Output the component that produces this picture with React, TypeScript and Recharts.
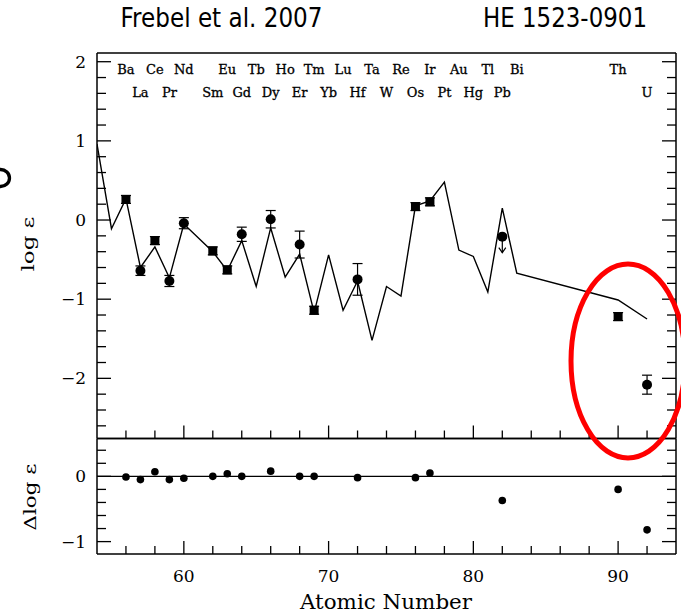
import React from "react";
import { ComposedChart, Line, Scatter, XAxis, YAxis, ErrorBar, ReferenceLine } from "recharts";

// page + plot frame (px)
const W = 681;
const H = 614;
const PLOT_L = 97;
const PLOT_R = 676;
const MAIN_T = 53;
const MAIN_B = 438.5;
const RES_B = 554;

const SERIF = '"DejaVu Serif", "Liberation Serif", serif';
const SANS = '"DejaVu Sans", "Liberation Sans", sans-serif';

// scaled solar r-process pattern (solid line)
const solarZ = [54, 55, 56, 57, 58, 59, 60, 62, 63, 64, 65, 66, 67, 68, 69, 70, 71, 72, 73, 74, 75, 76, 77, 78, 79, 80, 81, 82, 83, 90, 92];
const solarLogEps = [0.96, -0.11, 0.27, -0.6, -0.34, -0.73, -0.05, -0.4, -0.64, -0.26, -0.84, -0.1, -0.72, -0.43, -1.17, -0.44, -1.14, -0.77, -1.52, -0.84, -0.96, 0.18, 0.24, 0.48, -0.38, -0.46, -0.91, 0.15, -0.67, -1.01, -1.25];

// observed abundances, square symbols
const squareZ = [56, 58, 62, 63, 69, 76, 77, 90];
const squareLogEps = [0.26, -0.26, -0.39, -0.63, -1.14, 0.17, 0.23, -1.22];
const squareErr = [0.05, 0.05, 0.05, 0.05, 0.05, 0.05, 0.05, 0.05];

// observed abundances, round symbols
const circleZ = [57, 59, 60, 64, 66, 68, 72, 92];
const circleLogEps = [-0.64, -0.77, -0.04, -0.18, 0.01, -0.31, -0.75, -2.08];
const circleErr = [0.06, 0.07, 0.07, 0.09, 0.11, 0.17, 0.2, 0.12];

// upper limit (Pb)
const limitZ = [82];
const limitLogEps = [-0.21];

// residuals, lower panel
const residZ = [56, 57, 58, 59, 60, 62, 63, 64, 66, 68, 69, 72, 76, 77, 82, 90, 92];
const residDelta = [-0.01, -0.05, 0.07, -0.05, -0.03, 0.0, 0.04, 0.0, 0.08, 0.0, 0.0, -0.02, -0.02, 0.05, -0.37, -0.2, -0.82];

// element names along the top
const upperRowZ = [56, 58, 60, 63, 65, 67, 69, 71, 73, 75, 77, 79, 81, 83, 90];
const upperRowSym = ["Ba", "Ce", "Nd", "Eu", "Tb", "Ho", "Tm", "Lu", "Ta", "Re", "Ir", "Au", "Tl", "Bi", "Th"];
const lowerRowZ = [57, 59, 62, 64, 66, 68, 70, 72, 74, 76, 78, 80, 82, 92];
const lowerRowSym = ["La", "Pr", "Sm", "Gd", "Dy", "Er", "Yb", "Hf", "W", "Os", "Pt", "Hg", "Pb", "U"];

// axes
const xDomain = [54, 94];
const xTicks = [56, 58, 60, 62, 64, 66, 68, 70, 72, 74, 76, 78, 80, 82, 84, 86, 88, 90, 92];
const mainDomain = [-2.76, 2.11];
const mainTicks = [-2.6, -2.4, -2.2, -2, -1.8, -1.6, -1.4, -1.2, -1, -0.8, -0.6, -0.4, -0.2, 0, 0.2, 0.4, 0.6, 0.8, 1, 1.2, 1.4, 1.6, 1.8, 2];
const resDomain = [-1.19, 0.58];
const resTicks = [-1, -0.8, -0.6, -0.4, -0.2, 0, 0.2, 0.4];

const solar = solarZ.map((z, i) => ({ z, v: solarLogEps[i] }));
const squares = squareZ.map((z, i) => ({ z, v: squareLogEps[i], err: squareErr[i] }));
const circles = circleZ.map((z, i) => ({ z, v: circleLogEps[i], err: circleErr[i] }));
const limits = limitZ.map((z, i) => ({ z, v: limitLogEps[i] }));
const resid = residZ.map((z, i) => ({ z, v: residDelta[i] }));
const elements = [
  ...upperRowZ.map((z, i) => ({ z, sym: upperRowSym[i], row: 0 })),
  ...lowerRowZ.map((z, i) => ({ z, sym: lowerRowSym[i], row: 1 })),
];

const fmt = (v: number) => (v < 0 ? "\u2212" + Math.abs(v) : String(v));

const makeXTick = (edgeY: number, dir: number, labels: boolean) => (props: any) => {
  const { x, payload } = props;
  const v = payload.value;
  const major = v % 10 === 0;
  const len = major ? 13 : 8;
  return (
    <g>
      <line x1={x} x2={x} y1={edgeY} y2={edgeY + dir * len} stroke="#000" strokeWidth={1.3} />
      {labels && major && (
        <text x={x} y={582} textAnchor="middle" fontFamily={SERIF} fontSize={17} fill="#000">
          {v}
        </text>
      )}
    </g>
  );
};

const makeYTick = (edgeX: number, dir: number, labels: boolean) => (props: any) => {
  const { y, payload } = props;
  const v = payload.value;
  const major = Number.isInteger(v);
  const len = major ? 14 : 9;
  return (
    <g>
      <line x1={edgeX} x2={edgeX + dir * len} y1={y} y2={y} stroke="#000" strokeWidth={1.3} />
      {labels && major && (
        <text x={86} y={y + 6} textAnchor="end" fontFamily={SERIF} fontSize={17} fill="#000">
          {fmt(v)}
        </text>
      )}
    </g>
  );
};

// element name, placed through an invisible vertical reference line at its Z
// (text returned from a top-axis tick function did not show up)
const makeElemLabel = (sym: string, row: number) => (props: any) => {
  const vb = props.viewBox || {};
  return (
    <text x={vb.x} y={row === 0 ? 74 : 97} textAnchor="middle" fontFamily={SERIF} fontSize={13} fill="#000" stroke="#000" strokeWidth={0.3}>
      {sym}
    </text>
  );
};

const Square = (p: any) => <rect x={p.cx - 4.5} y={p.cy - 4.5} width={9} height={9} fill="#000" />;
const Dot = (p: any) => <circle cx={p.cx} cy={p.cy} r={5} fill="#000" />;
const SmallDot = (p: any) => <circle cx={p.cx} cy={p.cy} r={3.8} fill="#000" />;
const LimitDot = (p: any) => (
  <g>
    <circle cx={p.cx} cy={p.cy} r={5} fill="#000" />
    <line x1={p.cx} x2={p.cx} y1={p.cy} y2={p.cy + 16} stroke="#000" strokeWidth={1.2} />
    <polyline points={`${p.cx - 3.5},${p.cy + 11} ${p.cx},${p.cy + 16} ${p.cx + 3.5},${p.cy + 11}`} fill="none" stroke="#000" strokeWidth={1.2} />
  </g>
);

const frame = { stroke: "#000", strokeWidth: 1.5 };

// axes need a size of at least 1px or recharts skips drawing them
function MainPanel() {
  return (
    <ComposedChart width={W} height={H} margin={{ top: MAIN_T - 1, right: W - PLOT_R - 1, bottom: H - MAIN_B - 1, left: PLOT_L - 1 }}>
      <XAxis xAxisId="b" type="number" dataKey="z" domain={xDomain} ticks={xTicks} interval={0} height={1} allowDataOverflow tickLine={false} axisLine={frame} tick={makeXTick(MAIN_B, -1, false)} />
      <XAxis xAxisId="t" type="number" orientation="top" domain={xDomain} ticks={xTicks} interval={0} height={1} allowDataOverflow tickLine={false} axisLine={frame} tick={makeXTick(MAIN_T, 1, false)} />
      <YAxis yAxisId="l" type="number" dataKey="v" domain={mainDomain} ticks={mainTicks} interval={0} width={1} allowDataOverflow tickLine={false} axisLine={frame} tick={makeYTick(PLOT_L, 1, true)} />
      <YAxis yAxisId="r" type="number" orientation="right" domain={mainDomain} ticks={mainTicks} interval={0} width={1} allowDataOverflow tickLine={false} axisLine={frame} tick={makeYTick(PLOT_R, -1, false)} />
      {elements.map((e) => (
        <ReferenceLine key={e.sym} xAxisId="b" yAxisId="l" x={e.z} stroke="none" strokeWidth={0} label={makeElemLabel(e.sym, e.row)} />
      ))}
      <Line xAxisId="b" yAxisId="l" data={solar} dataKey="v" type="linear" stroke="#000" strokeWidth={1.4} dot={false} isAnimationActive={false} />
      <Scatter xAxisId="b" yAxisId="l" data={squares} dataKey="v" shape={Square} isAnimationActive={false}>
        <ErrorBar dataKey="err" direction="y" width={5} stroke="#000" strokeWidth={1.2} />
      </Scatter>
      <Scatter xAxisId="b" yAxisId="l" data={circles} dataKey="v" shape={Dot} isAnimationActive={false}>
        <ErrorBar dataKey="err" direction="y" width={5} stroke="#000" strokeWidth={1.2} />
      </Scatter>
      <Scatter xAxisId="b" yAxisId="l" data={limits} dataKey="v" shape={LimitDot} isAnimationActive={false} />
    </ComposedChart>
  );
}

function ResidualPanel() {
  return (
    <ComposedChart width={W} height={H} margin={{ top: MAIN_B - 1, right: W - PLOT_R - 1, bottom: H - RES_B - 1, left: PLOT_L - 1 }}>
      <XAxis xAxisId="b" type="number" dataKey="z" domain={xDomain} ticks={xTicks} interval={0} height={1} allowDataOverflow tickLine={false} axisLine={frame} tick={makeXTick(RES_B, -1, true)} />
      <XAxis xAxisId="t" type="number" orientation="top" domain={xDomain} ticks={xTicks} interval={0} height={1} allowDataOverflow tickLine={false} axisLine={frame} tick={makeXTick(MAIN_B, 1, false)} />
      <YAxis yAxisId="l" type="number" dataKey="v" domain={resDomain} ticks={resTicks} interval={0} width={1} allowDataOverflow tickLine={false} axisLine={frame} tick={makeYTick(PLOT_L, 1, true)} />
      <YAxis yAxisId="r" type="number" orientation="right" domain={resDomain} ticks={resTicks} interval={0} width={1} allowDataOverflow tickLine={false} axisLine={frame} tick={makeYTick(PLOT_R, -1, false)} />
      <ReferenceLine xAxisId="b" yAxisId="l" y={0} stroke="#000" strokeWidth={1.4} />
      <Scatter xAxisId="b" yAxisId="l" data={resid} dataKey="v" shape={SmallDot} isAnimationActive={false} />
    </ComposedChart>
  );
}

export default function App() {
  return (
    <div style={{ position: "absolute", left: 0, top: 0, width: W, height: H, background: "#fff", overflow: "hidden" }}>
      <div style={{ position: "absolute", left: 0, top: 0 }}>
        <MainPanel />
      </div>
      <div style={{ position: "absolute", left: 0, top: 0 }}>
        <ResidualPanel />
      </div>
      <svg width={W} height={H} style={{ position: "absolute", left: 0, top: 0, pointerEvents: "none" }}>
        <text x={120.5} y={27} fontFamily={SANS} fontSize={26} textLength={202} lengthAdjust="spacingAndGlyphs" fill="#000">
          Frebel et al. 2007
        </text>
        <text x={483} y={27} fontFamily={SANS} fontSize={26} textLength={164} lengthAdjust="spacingAndGlyphs" fill="#000">
          HE 1523-0901
        </text>
        {/* ring fragment at the left edge */}
        <ellipse cx={0.5} cy={178} rx={9} ry={8.5} fill="none" stroke="#000" strokeWidth={3.3} />
        <text transform="translate(34 244) rotate(-90)" textAnchor="middle" fontFamily={SERIF} fontSize={17} textLength={55} lengthAdjust="spacingAndGlyphs" fill="#000">
          log ε
        </text>
        <text transform="translate(36 497) rotate(-90)" textAnchor="middle" fontFamily={SERIF} fontSize={17} textLength={67} lengthAdjust="spacingAndGlyphs" fill="#000">
          Δlog ε
        </text>
        <text x={386} y={609} textAnchor="middle" fontFamily={SERIF} fontSize={20} textLength={172} lengthAdjust="spacingAndGlyphs" fill="#000">
          Atomic Number
        </text>
        <ellipse cx={628} cy={361} rx={57} ry={97} fill="none" stroke="#ff0000" strokeWidth={5} />
      </svg>
    </div>
  );
}
